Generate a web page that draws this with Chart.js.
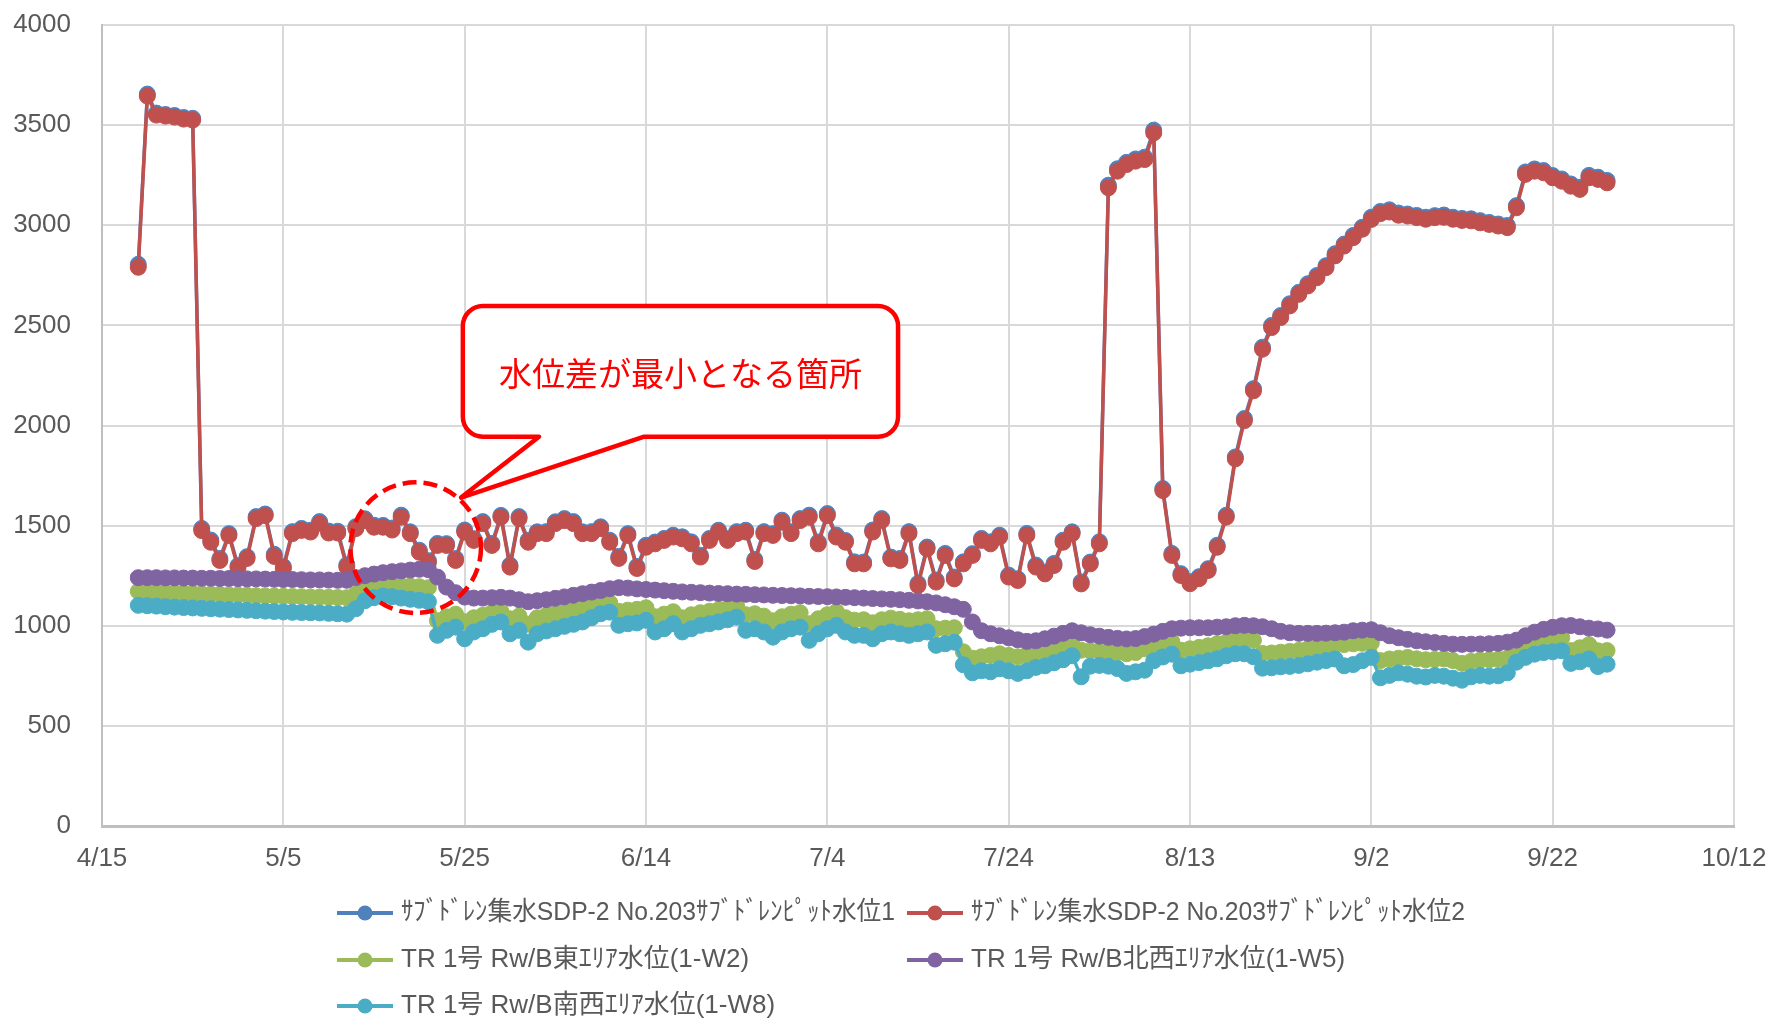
<!DOCTYPE html>
<html>
<head>
<meta charset="utf-8">
<script src="https://cdn.jsdelivr.net/npm/chart.js@4/dist/chart.umd.min.js"></script>
<style>
  html, body { margin: 0; padding: 0; background: #ffffff; }
  canvas { display: block; }
</style>
</head>
<body>
<canvas id="chart" width="1772" height="1018"></canvas>
<script>
// Daily readings from 4/19 to 9/28; the x axis counts days from 4/15.
const firstReadingOffset = 4;
const xTickLabels = ['4/15', '5/5', '5/25', '6/14', '7/4', '7/24', '8/13', '9/2', '9/22', '10/12'];
const xTickStep = 20;
const yMax = 4000;
const yStep = 500;

const seriesNames = [
  'ｻﾌﾞﾄﾞﾚﾝ集水SDP-2 No.203ｻﾌﾞﾄﾞﾚﾝﾋﾟｯﾄ水位1',
  'ｻﾌﾞﾄﾞﾚﾝ集水SDP-2 No.203ｻﾌﾞﾄﾞﾚﾝﾋﾟｯﾄ水位2',
  'TR 1号 Rw/B東ｴﾘｱ水位(1-W2)',
  'TR 1号 Rw/B北西ｴﾘｱ水位(1-W5)',
  'TR 1号 Rw/B南西ｴﾘｱ水位(1-W8)'
];
const seriesColors = ['#4f81bd', '#c0504d', '#9bbb59', '#8064a2', '#4bacc6'];

// サブドレンピット水位1
const pitLevel1 = [
  2805, 3655, 3560, 3553, 3548, 3538, 3534, 1486, 1428, 1336,
  1460, 1300, 1345, 1545, 1558, 1357, 1296, 1470, 1486, 1477,
  1520, 1473, 1472, 1304, 1495, 1534, 1502, 1501, 1488, 1552,
  1469, 1377, 1325, 1411, 1410, 1336, 1478, 1435, 1520, 1411,
  1551, 1303, 1545, 1427, 1469, 1470, 1519, 1535, 1520, 1469,
  1470, 1494, 1427, 1346, 1460, 1296, 1402, 1418, 1436, 1452,
  1444, 1419, 1352, 1436, 1477, 1436, 1470, 1477, 1331, 1470,
  1460, 1527, 1469, 1535, 1552, 1418, 1560, 1453, 1426, 1319,
  1318, 1478, 1535, 1343, 1336, 1470, 1211, 1393, 1228, 1361,
  1243, 1319, 1360, 1436, 1419, 1452, 1253, 1235, 1461, 1303,
  1268, 1311, 1427, 1469, 1219, 1318, 1419, 3200, 3282, 3314,
  3331, 3340, 3475, 1685, 1361, 1260, 1220, 1245, 1285, 1402,
  1552, 1843, 2035, 2184, 2391, 2500, 2549, 2608, 2665, 2708,
  2749, 2798, 2858, 2906, 2949, 2990, 3040, 3069, 3077, 3061,
  3056, 3049, 3040, 3048, 3051, 3040, 3034, 3032, 3023, 3014,
  3006, 2999, 3098, 3266, 3281, 3273, 3248, 3231, 3206, 3190,
  3249, 3240, 3224
];

// サブドレンピット水位2
const pitLevel2 = [
  2790, 3645, 3550, 3545, 3540, 3530, 3525, 1475, 1417, 1326,
  1451, 1290, 1336, 1535, 1550, 1346, 1286, 1460, 1476, 1468,
  1510, 1463, 1463, 1293, 1485, 1525, 1492, 1492, 1478, 1542,
  1460, 1367, 1315, 1401, 1401, 1326, 1468, 1426, 1510, 1401,
  1542, 1293, 1535, 1417, 1460, 1460, 1510, 1525, 1510, 1460,
  1460, 1485, 1417, 1336, 1451, 1286, 1392, 1409, 1426, 1443,
  1434, 1409, 1343, 1426, 1468, 1426, 1460, 1468, 1321, 1460,
  1451, 1517, 1460, 1525, 1542, 1409, 1550, 1443, 1417, 1309,
  1309, 1468, 1525, 1334, 1326, 1460, 1201, 1384, 1218, 1351,
  1234, 1309, 1351, 1426, 1409, 1443, 1243, 1226, 1451, 1293,
  1259, 1301, 1417, 1460, 1209, 1309, 1409, 3187, 3270, 3303,
  3320, 3328, 3461, 1675, 1351, 1251, 1210, 1235, 1276, 1392,
  1542, 1833, 2024, 2173, 2381, 2489, 2539, 2597, 2655, 2697,
  2738, 2788, 2847, 2896, 2938, 2980, 3029, 3058, 3066, 3050,
  3046, 3038, 3030, 3038, 3040, 3030, 3024, 3022, 3012, 3004,
  2996, 2988, 3087, 3254, 3270, 3262, 3237, 3220, 3195, 3179,
  3237, 3229, 3212
];

// 東エリア (1-W2)
const eastW2 = [
  1172, 1170, 1168, 1166, 1165, 1163, 1161, 1159, 1157, 1156,
  1154, 1153, 1152, 1150, 1149, 1148, 1147, 1146, 1145, 1144,
  1143, 1142, 1141, 1140, 1158, 1183, 1193, 1198, 1200, 1200,
  1198, 1195, 1190, 1025, 1045, 1058, 1020, 1040, 1052, 1065,
  1072, 1035, 1048, 1008, 1040, 1052, 1060, 1068, 1075, 1082,
  1095, 1108, 1115, 1072, 1078, 1082, 1090, 1045, 1058, 1070,
  1040, 1055, 1065, 1072, 1080, 1088, 1098, 1055, 1060, 1048,
  1025, 1045, 1058, 1065, 1010, 1035, 1055, 1070, 1040, 1028,
  1030, 1015, 1030, 1038, 1032, 1025, 1030, 1035, 985, 988,
  990, 870, 838, 845, 852, 860, 852, 845, 855, 868,
  880, 892, 900, 905, 878, 875, 872, 870, 865, 860,
  866, 885, 900, 912, 920, 878, 885, 892, 900, 910,
  918, 926, 934, 928, 862, 864, 868, 872, 877, 885,
  892, 898, 903, 906, 910, 912, 914, 826, 834, 838,
  842, 835, 830, 832, 835, 826, 812, 822, 828, 830,
  832, 838, 860, 880, 898, 912, 925, 940, 876, 890,
  905, 875, 876
];

// 北西エリア (1-W5)
const northwestW5 = [
  1240, 1240, 1240, 1239, 1239, 1238, 1238, 1237, 1237, 1236,
  1236, 1235, 1234, 1234, 1233, 1232, 1231, 1231, 1230, 1229,
  1229, 1228, 1227, 1227, 1240, 1250, 1258, 1265, 1270, 1274,
  1278, 1282, 1280, 1243, 1193, 1165, 1143, 1138, 1138, 1140,
  1142, 1138, 1130, 1120, 1125, 1130, 1137, 1144, 1152, 1160,
  1168, 1176, 1185, 1190, 1188, 1184, 1181, 1178, 1175, 1172,
  1169, 1167, 1165, 1163, 1161, 1160, 1158, 1157, 1155, 1154,
  1152, 1151, 1150, 1149, 1147, 1146, 1145, 1144, 1142, 1140,
  1138, 1136, 1134, 1132, 1130, 1127, 1124, 1120, 1114, 1105,
  1095, 1082, 1019, 975, 960, 950, 940, 930, 922, 925,
  935, 948, 962, 975, 965, 955, 948, 942, 937, 934,
  936, 946, 958, 972, 985, 988, 990, 990, 990, 993,
  995, 1000, 1002, 1000, 995, 985, 972, 965, 962, 962,
  962, 963, 965, 968, 975, 978, 980, 965, 950, 940,
  932, 925, 920, 916, 912, 908, 907, 908, 909, 910,
  912, 918, 928, 950, 968, 982, 992, 1000, 1001, 995,
  988, 984, 978
];

// 南西エリア (1-W8)
const southwestW8 = [
  1102, 1100, 1098, 1095, 1093, 1091, 1089, 1087, 1085, 1083,
  1081, 1079, 1077, 1075, 1073, 1071, 1069, 1067, 1066, 1065,
  1064, 1062, 1060, 1058, 1085, 1125, 1140, 1148, 1145, 1138,
  1132, 1127, 1120, 952, 977, 993, 935, 969, 985, 1007,
  1019, 960, 977, 918, 960, 974, 985, 997, 1007, 1019,
  1040, 1060, 1068, 1002, 1010, 1014, 1027, 969, 985, 1010,
  969, 985, 1002, 1010, 1019, 1030, 1043, 977, 985, 969,
  943, 969, 985, 993, 927, 960, 985, 1002, 969, 952,
  952, 935, 960, 969, 960, 952, 960, 969, 902, 910,
  918, 805, 765, 775, 770, 785, 775, 762, 775, 792,
  800, 815, 830, 850, 745, 798, 802, 798, 786, 762,
  770, 778, 825, 844, 858, 800, 808, 816, 825, 835,
  850, 860, 860, 845, 788, 790, 795, 797, 802, 810,
  818, 826, 834, 800, 806, 825, 842, 740, 752, 765,
  758, 748, 744, 752, 748, 738, 728, 745, 752, 748,
  750, 765, 818, 842, 858, 866, 870, 875, 812, 820,
  834, 796, 808
];

const seriesValues = [pitLevel1, pitLevel2, eastW2, northwestW5, southwestW8];

// Callout geometry, expressed in axis units (days from 4/15, water level)
const highlight = { centerDay: 34.6, centerLevel: 1390, radiusDays: 7.2 };
const callout = {
  text: '水位差が最小となる箇所',
  leftDay: 39.8, rightDay: 87.8, topLevel: 2597, bottomLevel: 1944,
  tailLeftDay: 48.2, tailRightDay: 59.8, tipDay: 39.6, tipLevel: 1640
};

const tickFont = { family: "'Liberation Sans', Arial, 'Noto Sans CJK JP', sans-serif", size: 26 };
const legendFontSize = 26;
const textColor = '#595959';

const datasets = seriesValues.map((values, s) => ({
  label: seriesNames[s],
  data: values.map((v, i) => ({ x: i + firstReadingOffset, y: v })),
  borderColor: seriesColors[s],
  backgroundColor: seriesColors[s],
  pointBackgroundColor: seriesColors[s],
  pointBorderColor: seriesColors[s],
  pointBorderWidth: 1,
  pointRadius: 8,
  borderWidth: 3.5,
  tension: 0,
  fill: false,
  // later series are painted above earlier ones
  order: seriesValues.length - s
}));

const highlightPlugin = {
  id: 'highlightCallout',
  afterDatasetsDraw(chart) {
    const { ctx } = chart;
    const xs = chart.scales.x, ys = chart.scales.y;
    const px = d => xs.getPixelForValue(d);
    const py = v => ys.getPixelForValue(v);
    ctx.save();

    // dashed ring
    const cx = px(highlight.centerDay), cy = py(highlight.centerLevel);
    const r = px(highlight.centerDay + highlight.radiusDays) - cx;
    ctx.beginPath();
    ctx.arc(cx, cy, r, 0, Math.PI * 2);
    ctx.strokeStyle = '#ff0000';
    ctx.lineWidth = 4.5;
    ctx.setLineDash([14, 7]);
    ctx.stroke();
    ctx.setLineDash([]);

    // speech bubble
    const L = px(callout.leftDay), R = px(callout.rightDay);
    const T = py(callout.topLevel), B = py(callout.bottomLevel);
    const tl = px(callout.tailLeftDay), tr = px(callout.tailRightDay);
    const tx = px(callout.tipDay), ty = py(callout.tipLevel);
    const rad = 20;
    ctx.beginPath();
    ctx.moveTo(L + rad, T);
    ctx.lineTo(R - rad, T);
    ctx.arcTo(R, T, R, T + rad, rad);
    ctx.lineTo(R, B - rad);
    ctx.arcTo(R, B, R - rad, B, rad);
    ctx.lineTo(tr, B);
    ctx.lineTo(tx, ty);
    ctx.lineTo(tl, B);
    ctx.lineTo(L + rad, B);
    ctx.arcTo(L, B, L, B - rad, rad);
    ctx.lineTo(L, T + rad);
    ctx.arcTo(L, T, L + rad, T, rad);
    ctx.closePath();
    ctx.fillStyle = '#ffffff';
    ctx.fill();
    ctx.lineWidth = 4.5;
    ctx.lineJoin = 'round';
    ctx.strokeStyle = '#ff0000';
    ctx.stroke();

    ctx.fillStyle = '#ff0000';
    ctx.font = "33px 'Noto Sans CJK JP', sans-serif";
    ctx.textAlign = 'center';
    ctx.textBaseline = 'middle';
    ctx.fillText(callout.text, (L + R) / 2, (T + B) / 2 + 2);
    ctx.restore();
  }
};

// Legend laid out in two columns under the plot
const legendLayout = {
  columns: [337, 907],
  rows: [913, 960, 1006],
  lineLength: 56,
  textGap: 8,
  textMaxWidth: 494
};
const legendPlugin = {
  id: 'gridLegend',
  afterDraw(chart) {
    const { ctx } = chart;
    ctx.save();
    chart.data.datasets.forEach((ds, i) => {
      const col = i % 2, row = Math.floor(i / 2);
      const x0 = legendLayout.columns[col];
      const y = legendLayout.rows[row];
      ctx.strokeStyle = ds.borderColor;
      ctx.lineWidth = 4;
      ctx.beginPath();
      ctx.moveTo(x0, y);
      ctx.lineTo(x0 + legendLayout.lineLength, y);
      ctx.stroke();
      ctx.fillStyle = ds.borderColor;
      ctx.beginPath();
      ctx.arc(x0 + legendLayout.lineLength / 2, y, 7.5, 0, Math.PI * 2);
      ctx.fill();
      ctx.fillStyle = textColor;
      ctx.font = `${legendFontSize}px ${tickFont.family}`;
      ctx.textAlign = 'left';
      ctx.textBaseline = 'middle';
      ctx.fillText(ds.label, x0 + legendLayout.lineLength + legendLayout.textGap, y,
        legendLayout.textMaxWidth);
    });
    ctx.restore();
  }
};

// keep the plot area fixed by the layout padding alone
const clearScalePadding = (scale) => {
  scale.paddingLeft = 0;
  scale.paddingRight = 0;
  scale.paddingTop = 0;
  scale.paddingBottom = 0;
};

new Chart(document.getElementById('chart'), {
  type: 'line',
  data: { datasets },
  options: {
    responsive: false,
    animation: false,
    devicePixelRatio: 1,
    layout: { padding: { top: 25, right: 38, bottom: 132, left: 0 } },
    plugins: {
      legend: { display: false },
      tooltip: { enabled: false }
    },
    scales: {
      x: {
        type: 'linear',
        min: 0,
        max: (xTickLabels.length - 1) * xTickStep,
        ticks: {
          stepSize: xTickStep,
          autoSkip: false,
          maxRotation: 0,
          padding: 17,
          color: textColor,
          font: tickFont,
          callback: (value) => xTickLabels[Math.round(value / xTickStep)]
        },
        grid: { color: '#d9d9d9', lineWidth: 2, drawTicks: false },
        border: { color: '#bfbfbf', width: 3 },
        afterFit: (scale) => { scale.height = 60; clearScalePadding(scale); }
      },
      y: {
        min: 0,
        max: yMax,
        ticks: {
          stepSize: yStep,
          padding: 31,
          color: textColor,
          font: tickFont,
          callback: (value) => String(value)
        },
        grid: { color: '#d9d9d9', lineWidth: 2, drawTicks: false },
        border: { color: '#bfbfbf', width: 2 },
        afterFit: (scale) => { scale.width = 102; clearScalePadding(scale); }
      }
    }
  },
  plugins: [highlightPlugin, legendPlugin]
});
</script>
</body>
</html>
